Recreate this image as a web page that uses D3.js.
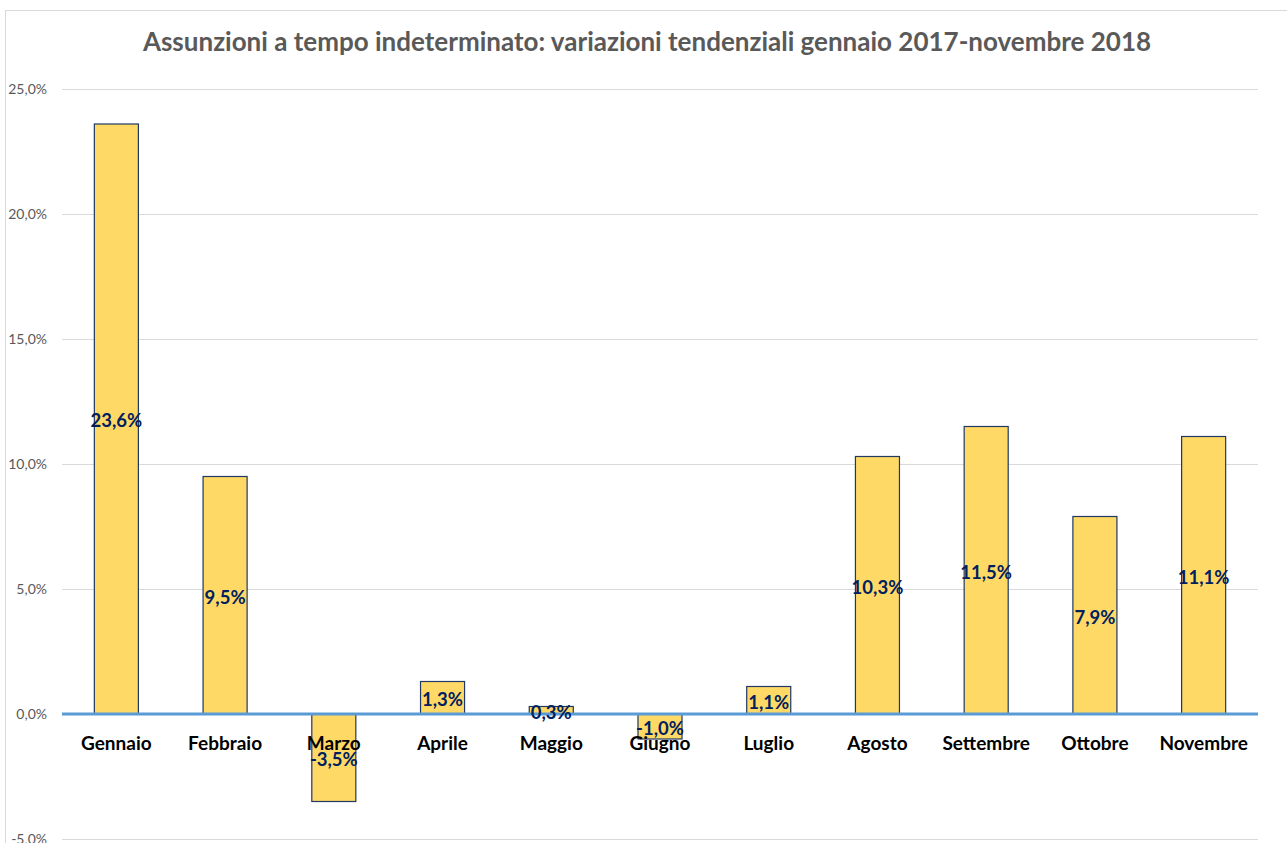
<!DOCTYPE html>
<html lang="it">
<head>
<meta charset="utf-8">
<script src="https://cdn.jsdelivr.net/npm/d3@7"></script>
<style type="text/css">
body {
	margin: 0;
	background-color: #ffffff;
	font-family: Lato, 'Open Sans', sans-serif;
}
.grid line { stroke: #d9d9d9; stroke-width: 1; shape-rendering: crispEdges; }
.grid path { display: none; }
.yaxis text { fill: #595959; font-size: 14px; font-family: Lato, sans-serif; }
.yaxis path, .yaxis line { display: none; }
</style>
</head>
<body>
<script type="text/javascript">

// data
var months = ["Gennaio", "Febbraio", "Marzo", "Aprile", "Maggio", "Giugno",
	"Luglio", "Agosto", "Settembre", "Ottobre", "Novembre"];
var values = [23.6, 9.5, -3.5, 1.3, 0.3, -1.0, 1.1, 10.3, 11.5, 7.9, 11.1];
var yTicks = [-5, 0, 5, 10, 15, 20, 25];

var width = 1287, height = 843;
var fmt = function(v) { return v.toFixed(1).replace(".", ",") + "%"; };

var svg = d3.select("body").append("svg")
	.attr("width", width)
	.attr("height", height);

// chart frame
svg.append("rect")
	.attr("x", 5.5).attr("y", 10.5)
	.attr("width", width + 10).attr("height", height + 10)
	.style("fill", "none")
	.style("stroke", "#d9d9d9");

var left = 62, right = 1258;

var x = d3.scaleBand()
	.domain(months)
	.range([left, right])
	.paddingInner(0.595)
	.paddingOuter(0.2975);

var y = d3.scaleLinear()
	.domain([-5, 25])
	.range([839, 89]);

// gridlines
svg.append("g")
	.attr("class", "grid")
	.attr("transform", "translate(" + left + ",0)")
	.call(d3.axisRight(y).tickValues(yTicks).tickSize(right - left).tickFormat(""));

// y labels
svg.append("g")
	.attr("class", "yaxis")
	.attr("transform", "translate(51,0)")
	.call(d3.axisLeft(y).tickValues(yTicks).tickSize(0).tickPadding(4).tickFormat(fmt));

// bars
svg.selectAll("rect.bar")
	.data(values)
	.enter()
	.append("rect")
	.attr("class", "bar")
	.attr("x", function(d, i) { return x(months[i]); })
	.attr("y", function(d) { return y(Math.max(0, d)); })
	.attr("width", x.bandwidth())
	.attr("height", function(d) { return Math.abs(y(d) - y(0)); })
	.style("fill", "#ffd966")
	.style("stroke", "#1f3864")
	.style("stroke-width", 1.2);

// zero line
svg.append("line")
	.attr("x1", left).attr("x2", right)
	.attr("y1", y(0)).attr("y2", y(0))
	.style("stroke", "#5b9bd5")
	.style("stroke-width", 3);

// category labels
svg.selectAll("text.cat")
	.data(months)
	.enter()
	.append("text")
	.attr("class", "cat")
	.attr("x", function(d) { return x(d) + x.bandwidth() / 2; })
	.attr("y", y(0) + 36)
	.attr("text-anchor", "middle")
	.style("font-size", "19px")
	.style("font-weight", "bold")
	.style("fill", "#000")
	.text(function(d) { return d; });

// value labels centered in bars
svg.selectAll("text.val")
	.data(values)
	.enter()
	.append("text")
	.attr("class", "val")
	.attr("x", function(d, i) { return x(months[i]) + x.bandwidth() / 2; })
	.attr("y", function(d) { return (y(d) + y(0)) / 2 + 2; })
	.attr("dy", "0.35em")
	.attr("text-anchor", "middle")
	.style("font-size", "18.5px")
	.style("font-weight", "bold")
	.style("fill", "#002060")
	.text(fmt);

// title
svg.append("text")
	.attr("x", 647)
	.attr("y", 51)
	.attr("text-anchor", "middle")
	.style("font-size", "26px")
	.style("font-weight", "bold")
	.style("fill", "#595959")
	.text("Assunzioni a tempo indeterminato: variazioni tendenziali gennaio 2017-novembre 2018");

</script>
</body>
</html>
